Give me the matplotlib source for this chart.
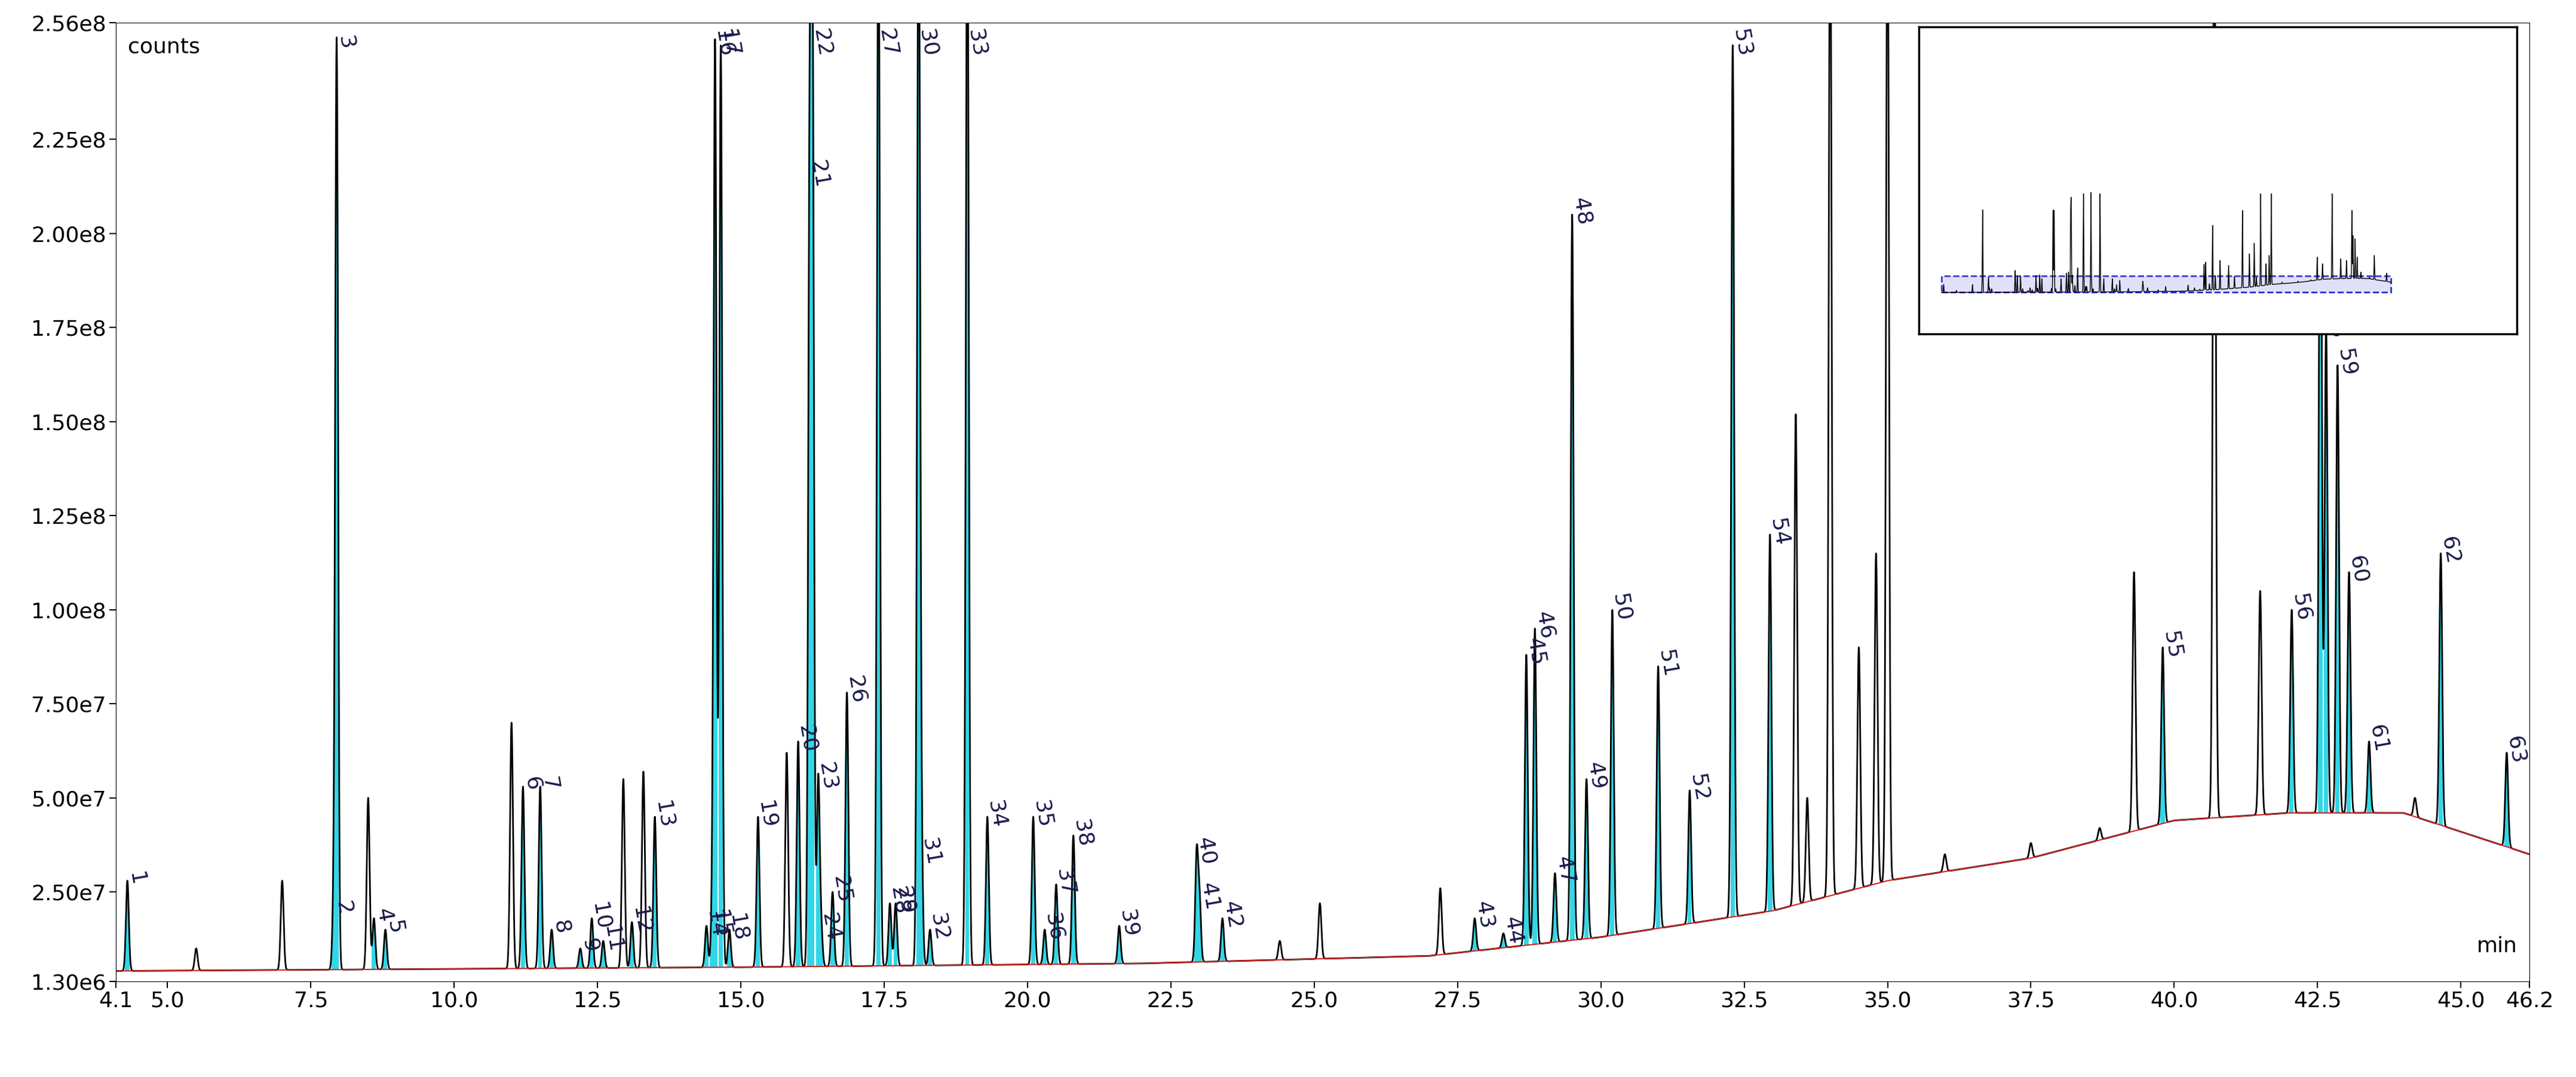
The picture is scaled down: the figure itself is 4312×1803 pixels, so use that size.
import numpy as np
import matplotlib.pyplot as plt
from matplotlib.patches import Rectangle

# labelled peaks: retention time (min), apex height (counts), label
peak_rt = [4.3, 7.9, 7.95, 8.6, 8.8, 11.2, 11.5, 11.7, 12.2, 12.4, 12.6, 13.1, 13.5,
           14.4, 14.5, 14.55, 14.65, 14.8, 15.3, 16.0, 16.2, 16.25, 16.35, 16.4, 16.6, 16.85,
           17.4, 17.6, 17.7, 18.1, 18.15, 18.3, 18.95, 19.3, 20.1, 20.3, 20.5, 20.8, 21.6,
           22.95, 23.0, 23.4, 27.8, 28.3, 28.7, 28.85, 29.2, 29.5, 29.75, 30.2, 31.0, 31.55,
           32.3, 32.95, 39.8, 42.05, 42.55, 42.65, 42.85, 43.05, 43.4, 44.65, 45.8]
peak_h = [2.8e7, 2.0e7, 2.5e8, 1.8e7, 1.5e7, 5.3e7, 5.3e7, 1.5e7, 1.0e7, 1.8e7, 1.2e7, 1.7e7, 4.5e7,
          1.6e7, 1.6e7, 2.5e8, 2.5e8, 1.5e7, 4.5e7, 6.5e7, 2.15e8, 2.5e8, 5.5e7, 1.5e7, 2.5e7, 7.8e7,
          3.0e8, 2.2e7, 2.2e7, 3.0e8, 3.5e7, 1.5e7, 3.0e8, 4.5e7, 4.5e7, 1.5e7, 2.7e7, 4.0e7, 1.6e7,
          3.5e7, 2.3e7, 1.8e7, 1.8e7, 1.4e7, 8.8e7, 9.5e7, 3.0e7, 2.05e8, 5.5e7, 1.0e8, 8.5e7, 5.2e7,
          2.5e8, 1.2e8, 9.0e7, 1.0e8, 2.5e8, 1.75e8, 1.65e8, 1.1e8, 6.5e7, 1.15e8, 6.2e7]
peak_lab = [str(i) for i in range(1, 64)]

# unlabelled peaks
other_rt = [5.5, 7.0, 8.5, 11.0, 12.95, 13.3, 15.8, 24.4, 25.1, 27.2, 33.4, 33.6, 34.0, 34.5,
            34.8, 35.0, 36.0, 37.5, 38.7, 39.3, 40.7, 41.5, 44.2]
other_h = [1.0e7, 2.8e7, 5.0e7, 7.0e7, 5.5e7, 5.7e7, 6.2e7, 1.2e7, 2.2e7, 2.6e7, 1.52e8, 5.0e7, 3.0e8, 9.0e7,
           1.15e8, 3.0e8, 3.5e7, 3.8e7, 4.2e7, 1.1e8, 3.0e8, 1.05e8, 5.0e7]

# baseline knots
base_t = [4.1, 15.0, 22.0, 27.0, 30.0, 33.0, 35.0, 37.5, 40.0, 42.0, 44.0, 46.2]
base_y = [4.0e6, 5.0e6, 6.0e6, 8.0e6, 1.3e7, 2.0e7, 2.8e7, 3.4e7, 4.4e7, 4.6e7, 4.6e7, 3.5e7]

xticks = [4.1, 5.0, 7.5, 10.0, 12.5, 15.0, 17.5, 20.0, 22.5, 25.0, 27.5, 30.0, 32.5, 35.0,
          37.5, 40.0, 42.5, 45.0, 46.2]
yticks = [1.30e6, 2.50e7, 5.00e7, 7.50e7, 1.00e8, 1.25e8, 1.50e8, 1.75e8, 2.00e8, 2.25e8, 2.56e8]
ylabels = ['1.30e6', '2.50e7', '5.00e7', '7.50e7', '1.00e8', '1.25e8', '1.50e8', '1.75e8',
           '2.00e8', '2.25e8', '2.56e8']

t = np.linspace(4.1, 46.2, 20000)
base = np.interp(t, base_t, base_y)
sig = base.copy()
w = 0.025
for rt, h in zip(peak_rt + other_rt, peak_h + other_h):
    b = np.interp(rt, base_t, base_y)
    sig += (h - b) * np.exp(-0.5 * ((t - rt) / w) ** 2)

fig = plt.figure(figsize=(43.12, 18.03), dpi=100)
ax = fig.add_axes([0.045, 0.089, 0.937, 0.89])
for i, (rt, h) in enumerate(zip(peak_rt, peak_h)):
    m = np.abs(t - rt) < 0.03
    ax.vlines(t[m][::4], np.interp(t[m][::4], base_t, base_y), sig[m][::4],
              color='#33d6e6', lw=1.5)
    ax.text(rt, min(h, 2.5e8) + 1.5e6, ' ' + peak_lab[i], rotation=-80,
            ha='center', va='bottom', fontsize=26, color='#1a1a4a', rotation_mode='anchor')
ax.plot(t, sig, color='black', lw=2)
ax.plot(t, base, color='#cc2222', lw=1.5)
ax.set_xlim(4.1, 46.2)
ax.set_ylim(1.30e6, 2.56e8)
ax.set_xticks(xticks)
ax.set_xticklabels([f'{v:.1f}' for v in xticks], fontsize=26)
ax.set_yticks(yticks)
ax.set_yticklabels(ylabels, fontsize=26)
ax.tick_params(length=8, width=1.5)
ax.text(0.005, 0.985, 'counts', transform=ax.transAxes, fontsize=26, va='top')
ax.text(0.995, 0.03, 'min', transform=ax.transAxes, fontsize=26, ha='right')

# overview inset
ins = fig.add_axes([0.745, 0.69, 0.232, 0.285])
ins.plot(t, sig / 4.0, color='black', lw=1)
ins.set_xlim(2, 58)
ins.set_ylim(-3e7, 2.0e8)
ins.add_patch(Rectangle((4.1, 1.3e6), 42.1, 1.2e7, fill=False, ls='--', ec='#2222cc', lw=2))
ins.add_patch(Rectangle((4.1, 1.3e6), 42.1, 1.2e7, color='#9999ee', alpha=0.3, lw=0))
ins.set_xticks([])
ins.set_yticks([])
for s in ins.spines.values():
    s.set_linewidth(2.5)

fig.savefig('out.png', dpi=100)
